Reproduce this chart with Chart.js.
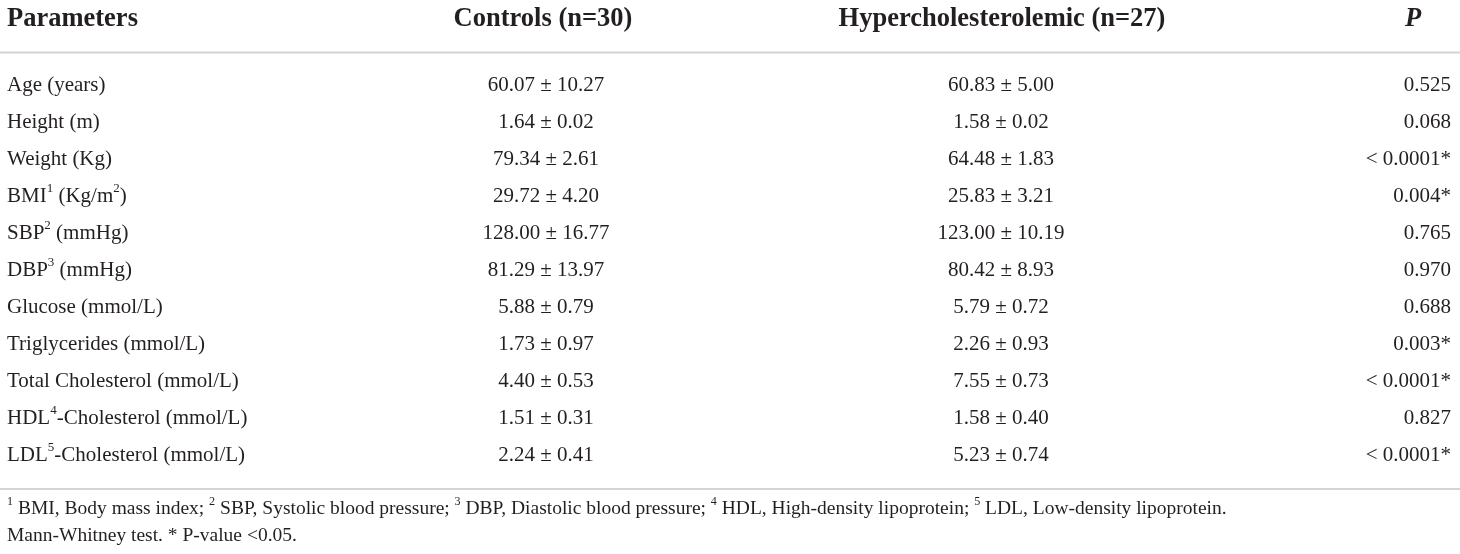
<!DOCTYPE html>
<html>
<head>
<meta charset="utf-8">
<script src="https://cdn.jsdelivr.net/npm/chart.js@4.4.1/dist/chart.umd.min.js"></script>
<style>
  html, body { margin: 0; padding: 0; background: #fff; }
  #wrap { width: 1460px; height: 554px; position: relative; }
</style>
</head>
<body>
<div id="wrap"><canvas id="tbl"></canvas></div>
<script>
// table content (^n marks a superscript)
const headers = ["Parameters", "Controls (n=30)", "Hypercholesterolemic (n=27)", "P"];
const parameters = [
  "Age (years)", "Height (m)", "Weight (Kg)", "BMI^1 (Kg/m^2)", "SBP^2 (mmHg)",
  "DBP^3 (mmHg)", "Glucose (mmol/L)", "Triglycerides (mmol/L)",
  "Total Cholesterol (mmol/L)", "HDL^4-Cholesterol (mmol/L)", "LDL^5-Cholesterol (mmol/L)"
];
const controls = [
  "60.07 ± 10.27", "1.64 ± 0.02", "79.34 ± 2.61", "29.72 ± 4.20", "128.00 ± 16.77",
  "81.29 ± 13.97", "5.88 ± 0.79", "1.73 ± 0.97", "4.40 ± 0.53", "1.51 ± 0.31", "2.24 ± 0.41"
];
const hyper = [
  "60.83 ± 5.00", "1.58 ± 0.02", "64.48 ± 1.83", "25.83 ± 3.21", "123.00 ± 10.19",
  "80.42 ± 8.93", "5.79 ± 0.72", "2.26 ± 0.93", "7.55 ± 0.73", "1.58 ± 0.40", "5.23 ± 0.74"
];
const pValues = [
  "0.525", "0.068", "< 0.0001*", "0.004*", "0.765",
  "0.970", "0.688", "0.003*", "< 0.0001*", "0.827", "< 0.0001*"
];
const footnotes = [
  "^1 BMI, Body mass index; ^2 SBP, Systolic blood pressure; ^3 DBP, Diastolic blood pressure; ^4 HDL, High-density lipoprotein; ^5 LDL, Low-density lipoprotein.",
  "Mann-Whitney test. * P-value <0.05."
];

const FONT = "'Liberation Serif', 'Times New Roman', serif";
const INK = "#231f20";
const RULE = "#d4d4d4";

// column anchors on the x scale (0..1460)
const columns = [
  { x: 7, align: "left" },
  { x: 546, align: "center" },
  { x: 1001, align: "center" },
  { x: 1451, align: "right" }
];
const headerX = [7, 543, 1002, 1413];
const headerAlign = ["left", "center", "center", "center"];

function drawRich(ctx, str, x, y, align, size, weight, italic) {
  const parts = str.split(/\^(\w)/);
  const segs = parts.map((t, i) => ({ t, sup: i % 2 === 1 }));
  const fontOf = s => (italic ? "italic " : "") + weight + " " + (s.sup ? size * 0.62 : size) + "px " + FONT;
  let w = 0;
  segs.forEach(s => { ctx.font = fontOf(s); s.w = ctx.measureText(s.t).width; w += s.w; });
  let cx = align === "left" ? x : align === "right" ? x - w : x - w / 2;
  ctx.textAlign = "left";
  ctx.textBaseline = "middle";
  segs.forEach(s => {
    ctx.font = fontOf(s);
    ctx.fillText(s.t, cx, s.sup ? y - size * 0.38 : y);
    cx += s.w;
  });
}

const tablePlugin = {
  id: "tableText",
  afterDatasetsDraw(chart) {
    const ctx = chart.ctx;
    const area = chart.chartArea;
    const xs = chart.scales.x;
    ctx.save();
    ctx.fillStyle = INK;
    // body cells, placed at each point the library laid out
    chart.data.datasets.forEach((ds, di) => {
      chart.getDatasetMeta(di).data.forEach((pt, i) => {
        drawRich(ctx, ds.texts[i], pt.x, pt.y, ds.align, 21, "normal", false);
      });
    });
    // header row
    headers.forEach((h, i) => {
      drawRich(ctx, h, xs.getPixelForValue(headerX[i]), area.top - 47.5, headerAlign[i], 26.5, "bold", i === 3);
    });
    // rules
    ctx.fillStyle = RULE;
    ctx.fillRect(xs.getPixelForValue(0), area.top - 15.5, xs.getPixelForValue(1460), 2);
    ctx.fillRect(xs.getPixelForValue(0), area.bottom + 14, xs.getPixelForValue(1460), 2);
    // footnotes
    ctx.fillStyle = INK;
    footnotes.forEach((f, i) => {
      drawRich(ctx, f, xs.getPixelForValue(7), area.bottom + 35 + i * 27, "left", 19.5, "normal", false);
    });
    ctx.restore();
  }
};

function column(texts, col) {
  return {
    data: parameters.map(p => ({ x: col.x, y: p })),
    texts: texts,
    align: col.align,
    pointRadius: 0,
    pointHoverRadius: 0
  };
}

new Chart(document.getElementById("tbl"), {
  type: "scatter",
  data: {
    datasets: [
      column(parameters, columns[0]),
      column(controls, columns[1]),
      column(hyper, columns[2]),
      column(pValues, columns[3])
    ]
  },
  options: {
    responsive: true,
    maintainAspectRatio: false,
    animation: false,
    events: [],
    layout: { padding: { top: 67, bottom: 80, left: 0, right: 0 } },
    scales: {
      x: { type: "linear", min: 0, max: 1460, display: false },
      y: { type: "category", labels: parameters, offset: true, display: false }
    },
    plugins: {
      legend: { display: false },
      tooltip: { enabled: false }
    }
  },
  plugins: [tablePlugin]
});
</script>
</body>
</html>
